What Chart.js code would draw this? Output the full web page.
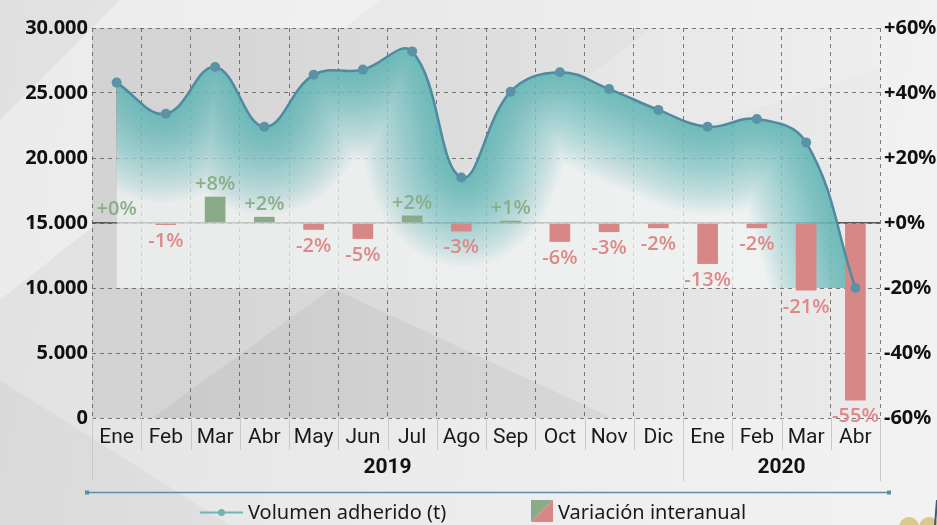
<!DOCTYPE html>
<html><head><meta charset="utf-8">
<script src="https://cdn.jsdelivr.net/npm/chart.js@4.4.1/dist/chart.umd.min.js"></script>
<style>
html,body{margin:0;padding:0;}
body{width:937px;height:525px;overflow:hidden;background:linear-gradient(100deg,#e0e0e0 0%,#e9e9e9 35%,#efefef 70%,#f2f2f2 100%);}
canvas{display:block}
</style></head>
<body><canvas id="c" width="937" height="525"></canvas>
<script>
// ---- data ----
const months = ['Ene','Feb','Mar','Abr','May','Jun','Jul','Ago','Sep','Oct','Nov','Dic','Ene','Feb','Mar','Abr'];
const years = ['2019','2020'];
const yearMonthCounts = [12,4];
const volumen = [25800,23400,27000,22400,26400,26800,28200,18500,25100,26600,25300,23700,22400,23000,21200,10000];
const variacion = [0.3,-0.6,8.1,1.9,-2.1,-4.9,2.3,-2.6,0.7,-5.8,-2.8,-1.6,-12.6,-1.6,-20.8,-54.6];
const leftTicks = [0,5000,10000,15000,20000,25000,30000];
const rightTicks = [-60,-40,-20,0,20,40,60];
const fillBase = 10000;
const legendLabels = ['Volumen adherido (t)','Variación interanual'];

// ---- fonts ----
function hasFont(f){
  const c=document.createElement('canvas').getContext('2d');
  const t='Ene Feb Mar Variación 2019';
  c.font='20px monospace'; const a=c.measureText(t).width;
  c.font='20px "'+f+'", monospace'; const b=c.measureText(t).width;
  c.font='20px serif'; const a2=c.measureText(t).width;
  c.font='20px "'+f+'", serif'; const b2=c.measureText(t).width;
  return a!==b || a2!==b2;
}
const condFamily = ['Liberation Sans Narrow','Roboto'].find(hasFont) || 'Noto Sans';
const SANS = "'Noto Sans', 'DejaVu Sans', sans-serif";

const GREEN='#8aab88', RED='#d78886', GREEN_T='#8aae88', RED_T='#dc8a88';
const LINE='#4f8aa0', POINT='#5a93a7', LEG_LINE='#6fb4b8';
const fmtThousands = v => String(v).replace(/\B(?=(\d{3})+(?!\d))/g,'.');
const fmtPct = v => (v>=0?'+':'')+v+'%';
const fmtVar = v => { const r=Math.round(Math.abs(v)); return (v>=0?'+':'-')+r+'%'; };

const bgPlugin = {
  id:'bg',
  beforeDraw(chart){
    const {ctx, chartArea:a} = chart;
    ctx.save();
    ctx.fillStyle='rgba(255,255,255,0.35)';
    ctx.beginPath(); ctx.moveTo(0,120); ctx.lineTo(120,0); ctx.lineTo(380,0); ctx.lineTo(0,300); ctx.closePath(); ctx.fill();
    ctx.fillStyle='rgba(0,0,0,0.03)';
    ctx.beginPath(); ctx.moveTo(0,525); ctx.lineTo(230,525); ctx.lineTo(0,380); ctx.closePath(); ctx.fill();
    const g = ctx.createLinearGradient(a.left,0,a.right,0);
    g.addColorStop(0,'#d2d2d2'); g.addColorStop(0.5,'#dedede'); g.addColorStop(1,'#ebebeb');
    ctx.fillStyle=g; ctx.fillRect(a.left,a.top,a.right-a.left,a.bottom-a.top);
    ctx.beginPath(); ctx.rect(a.left,a.top,a.right-a.left,a.bottom-a.top); ctx.clip();
    ctx.fillStyle='rgba(0,0,0,0.045)';
    ctx.beginPath(); ctx.moveTo(a.left+60,a.bottom); ctx.lineTo(a.left+240,a.top+260); ctx.lineTo(a.left+520,a.bottom); ctx.closePath(); ctx.fill();
    ctx.fillStyle='rgba(255,255,255,0.18)';
    ctx.beginPath(); ctx.moveTo(a.left+300,a.top+200); ctx.lineTo(a.left+560,a.top); ctx.lineTo(a.right,a.top); ctx.lineTo(a.right,a.top+40); ctx.closePath(); ctx.fill();
    ctx.restore();
  }
};

const glowPlugin = {
  id:'glow',
  beforeDatasetsDraw(chart){
    const meta = chart.getDatasetMeta(0);
    const line = meta.dataset, pts = meta.data;
    if(!line || !pts.length) return;
    const ctx = chart.ctx, a = chart.chartArea;
    line.updateControlPoints(a,'x');
    const yBase = chart.scales.y.getPixelForValue(fillBase);
    ctx.save();
    ctx.beginPath(); ctx.rect(a.left,a.top,a.right-a.left,a.bottom-a.top); ctx.clip();
    ctx.beginPath();
    line.path(ctx);
    ctx.lineTo(pts[pts.length-1].x, yBase);
    ctx.lineTo(pts[0].x, yBase);
    ctx.closePath();
    ctx.clip();
    ctx.lineJoin='round'; ctx.lineCap='round';
    for(let w=160; w>=4; w-=6){
      ctx.save();
      ctx.translate(0, w*0.05);
      ctx.strokeStyle = 'rgba(45,152,156,0.032)';
      ctx.lineWidth = w;
      ctx.beginPath(); line.path(ctx); ctx.stroke();
      ctx.restore();
    }
    ctx.restore();
  }
};

const labelsPlugin = {
  id:'barLabels',
  afterDatasetsDraw(chart){
    const meta = chart.getDatasetMeta(1);
    const ctx = chart.ctx;
    ctx.save();
    ctx.font = "600 20px 'Open Sans', " + SANS;
    ctx.textAlign='center'; ctx.textBaseline='alphabetic';
    meta.data.forEach((bar,i)=>{
      const v = variacion[i];
      const txt = fmtVar(v);
      if(v>=0){ ctx.fillStyle=GREEN_T; ctx.fillText(txt, bar.x, Math.min(bar.y,bar.base)-7); }
      else { ctx.fillStyle=RED_T; ctx.fillText(txt, bar.x, Math.max(bar.y,bar.base)+22); }
    });
    ctx.restore();
  }
};

const axisExtrasPlugin = {
  id:'axisExtras',
  afterDraw(chart){
    const ctx = chart.ctx, a = chart.chartArea, x = chart.scales.x;
    const n = months.length;
    const step = (x.getPixelForValue(1)-x.getPixelForValue(0));
    const edge = i => x.getPixelForValue(i) - step/2;
    ctx.save();
    ctx.strokeStyle='#c9c9c9'; ctx.lineWidth=1;
    for(let i=0;i<=n;i++){
      const px = Math.round(edge(i))+0.5;
      ctx.beginPath(); ctx.moveTo(px,a.bottom); ctx.lineTo(px,a.bottom+32); ctx.stroke();
    }
    let idx=0;
    ctx.font = "bold 21px '"+condFamily+"', "+SANS;
    ctx.fillStyle='#111'; ctx.textAlign='center'; ctx.textBaseline='middle';
    const bounds=[0];
    yearMonthCounts.forEach(c=>{ idx+=c; bounds.push(idx); });
    bounds.forEach(b=>{
      const px = Math.round(edge(b))+0.5;
      ctx.beginPath(); ctx.moveTo(px,a.bottom); ctx.lineTo(px,a.bottom+63); ctx.stroke();
    });
    years.forEach((y,k)=>{
      const cx = (edge(bounds[k])+edge(bounds[k+1]))/2;
      ctx.fillText(y, cx, a.bottom+50);
    });
    ctx.strokeStyle='#5b8ea6'; ctx.lineWidth=1.5;
    ctx.beginPath(); ctx.moveTo(87,492.5); ctx.lineTo(889,492.5); ctx.stroke();
    ctx.fillStyle='#5b8ea6';
    ctx.fillRect(85,490.5,4,4); ctx.fillRect(887,490.5,4,4);
    ctx.strokeStyle=LEG_LINE; ctx.lineWidth=2;
    ctx.beginPath(); ctx.moveTo(200,512.5); ctx.lineTo(243,512.5); ctx.stroke();
    ctx.fillStyle=LEG_LINE; ctx.beginPath(); ctx.arc(221.5,512.5,3.5,0,Math.PI*2); ctx.fill();
    ctx.font = "20px " + SANS; ctx.fillStyle='#1a1a1a'; ctx.textAlign='left'; ctx.textBaseline='alphabetic';
    ctx.fillText(legendLabels[0], 248, 519);
    const sx=531, sy=500, s=22;
    ctx.fillStyle=GREEN; ctx.beginPath(); ctx.moveTo(sx,sy); ctx.lineTo(sx+s,sy); ctx.lineTo(sx,sy+s); ctx.closePath(); ctx.fill();
    ctx.fillStyle=RED; ctx.beginPath(); ctx.moveTo(sx+s,sy); ctx.lineTo(sx+s,sy+s); ctx.lineTo(sx,sy+s); ctx.closePath(); ctx.fill();
    ctx.fillStyle='#1a1a1a';
    ctx.fillText(legendLabels[1], 558, 519);
    ctx.fillStyle='#d9c98c';
    ctx.beginPath(); ctx.arc(909,527,10,0,Math.PI*2); ctx.fill();
    ctx.beginPath(); ctx.arc(929,527,10,0,Math.PI*2); ctx.fill();
    ctx.strokeStyle='#4a5570'; ctx.lineWidth=2;
    ctx.beginPath(); ctx.moveTo(935,525); ctx.lineTo(937,500); ctx.stroke();
    ctx.restore();
  }
};

const gridColor = 'rgba(80,80,80,0.75)';

new Chart(document.getElementById('c'), {
  data: {
    labels: months,
    datasets: [
      {
        type:'line', label: legendLabels[0], data: volumen, yAxisID:'y', order:0,
        borderColor: LINE, borderWidth: 2.5, tension: 0.4,
        pointRadius: 5, pointBackgroundColor: POINT, pointBorderWidth: 0,
        fill: {value: fillBase}, backgroundColor: 'rgba(244,246,246,0.7)'
      },
      {
        type:'bar', label: legendLabels[1], data: variacion, yAxisID:'y1', order:1,
        backgroundColor: variacion.map(v=> v>=0 ? GREEN : RED),
        barPercentage: 0.42, categoryPercentage: 1.0
      }
    ]
  },
  options: {
    responsive:false, animation:false, devicePixelRatio:1,
    layout:{ padding:{ top:28, left:0, right:0, bottom:0 } },
    plugins:{ legend:{display:false}, tooltip:{enabled:false}, filler:{drawTime:'beforeDatasetsDraw'} },
    scales:{
      x:{
        type:'category', offset:true,
        grid:{ offset:true, color:gridColor, lineWidth:1, drawTicks:false, borderDash:[4,4] },
        border:{ display:false, dash:[4,4] },
        ticks:{ padding:7, color:'#1a1a1a', font:{ family:"'"+condFamily+"', "+SANS, size:21 }, maxRotation:0, autoSkip:false },
        afterFit(s){ s.height = 107; }
      },
      y:{
        position:'left', min:0, max:30000,
        afterBuildTicks(s){ s.ticks = leftTicks.map(v=>({value:v})); },
        grid:{ color:gridColor, lineWidth:1, drawTicks:false, borderDash:[4,4] },
        border:{ display:false, dash:[4,4] },
        ticks:{ padding:4, color:'#111', font:{ family:SANS, size:20, weight:'bold' }, callback:v=>fmtThousands(v) },
        afterFit(s){ s.width = 92; }
      },
      y1:{
        position:'right', min:-60, max:60,
        afterBuildTicks(s){ s.ticks = rightTicks.map(v=>({value:v})); },
        grid:{ drawTicks:false, lineWidth:1.5, borderDash:[], color: c => (c.tick && c.tick.value===0) ? '#555' : 'rgba(0,0,0,0)' },
        border:{ display:false, dash:[] },
        ticks:{ padding:4, color:'#111', font:{ family:SANS, size:20, weight:'bold' }, callback:v=>fmtPct(v) },
        afterFit(s){ s.width = 57; }
      }
    }
  },
  plugins:[bgPlugin, glowPlugin, labelsPlugin, axisExtrasPlugin]
});
</script>
</body></html>
